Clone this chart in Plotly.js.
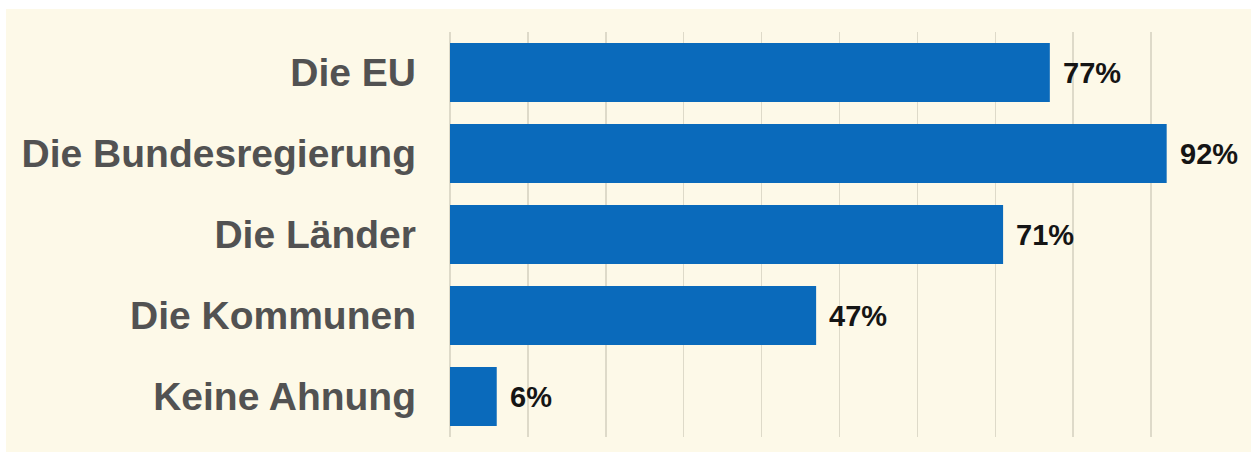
<!DOCTYPE html>
<html>
<head>
<meta charset="utf-8">
<script src="https://cdn.plot.ly/plotly-3.0.1.min.js"></script>
<style>
html,body{margin:0;padding:0;background:#ffffff;width:1251px;height:452px;overflow:hidden;}
#chart{position:absolute;left:6px;top:9px;width:1245px;height:443px;}
</style>
</head>
<body>
<div id="chart"></div>
<script>
var categories = ["Die EU", "Die Bundesregierung", "Die Länder", "Die Kommunen", "Keine Ahnung"];
var values = [77, 92, 71, 47, 6];
var valueLabels = ["77%", "92%", "71%", "47%", "6%"];

var trace = {
  type: "bar",
  orientation: "h",
  y: categories,
  x: values,
  width: 0.73,
  marker: {color: "#0a6abb"},
  hoverinfo: "none"
};

var annotations = categories.map(function(c, i){
  return {
    x: values[i], y: c, xref: "x", yref: "y",
    text: valueLabels[i], showarrow: false,
    xanchor: "left", yanchor: "middle", xshift: 11,
    font: {family: "Liberation Sans, Arial, sans-serif", size: 29, color: "#151515", weight: 700}
  };
});

var layout = {
  width: 1245, height: 443,
  margin: {l: 444, r: 22, t: 23, b: 15},
  paper_bgcolor: "#fdf9e8",
  plot_bgcolor: "#fdf9e8",
  showlegend: false,
  xaxis: {
    range: [0, 100], dtick: 10, showgrid: true, gridcolor: "#dedac9", gridwidth: 1.5,
    zeroline: true, zerolinecolor: "#dedac9", zerolinewidth: 1.5,
    showticklabels: false, showline: false, fixedrange: true
  },
  yaxis: {
    autorange: "reversed", showgrid: false, zeroline: false, showline: false,
    ticks: "", ticklabelstandoff: 33,
    tickfont: {family: "Liberation Sans, Arial, sans-serif", size: 39, color: "#525252", weight: 700}
  },
  annotations: annotations
};

Plotly.newPlot("chart", [trace], layout, {displayModeBar: false, staticPlot: true});
</script>
</body>
</html>
